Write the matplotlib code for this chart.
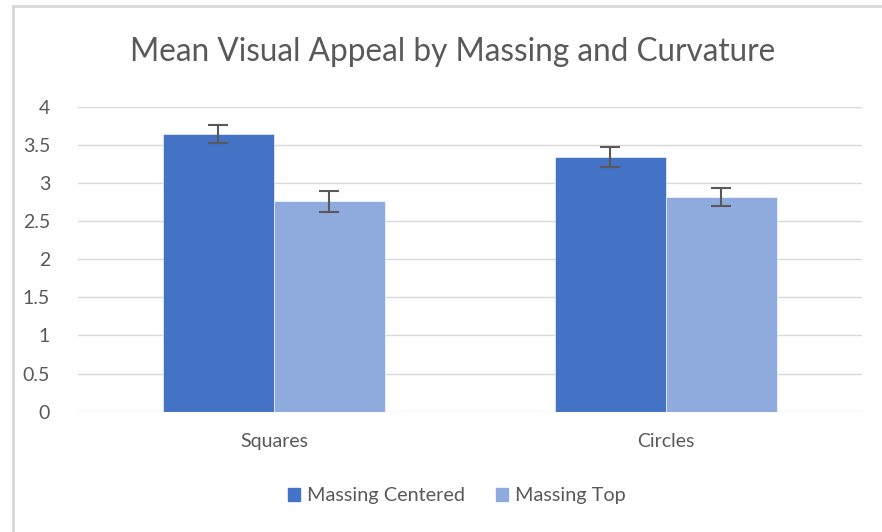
import matplotlib
matplotlib.use("Agg")
import matplotlib.pyplot as plt
from matplotlib.lines import Line2D
import numpy as np

categories = ["Squares", "Circles"]
series_names = ["Massing Centered", "Massing Top"]
centered_means = [3.64, 3.34]
centered_err = [0.12, 0.13]
top_means = [2.76, 2.82]
top_err = [0.135, 0.12]
y_ticks = [0, 0.5, 1, 1.5, 2, 2.5, 3, 3.5, 4]
y_tick_labels = ["0", "0.5", "1", "1.5", "2", "2.5", "3", "3.5", "4"]

plt.rcParams["font.family"] = ["Lato", "DejaVu Sans"]
text_color = "#595959"
grid_color = "#D9D9D9"
colors = ["#4472C4", "#8FAADC"]

fig = plt.figure(figsize=(8.82, 5.32), dpi=100)
ax = fig.add_axes([0.0884, 0.2261, 0.8886, 0.5733])

x = np.arange(len(categories))
w = 0.283
ax.bar(x - w / 2, centered_means, width=w, color=colors[0], edgecolor="white",
       linewidth=0.4, zorder=2, label=series_names[0])
ax.bar(x + w / 2, top_means, width=w, color=colors[1], edgecolor="white",
       linewidth=0.4, zorder=2, label=series_names[1])
ax.errorbar(x - w / 2, centered_means, yerr=centered_err, fmt="none",
            ecolor=text_color, elinewidth=1.5, capsize=7.5, capthick=1.5, zorder=3)
ax.errorbar(x + w / 2, top_means, yerr=top_err, fmt="none",
            ecolor=text_color, elinewidth=1.5, capsize=7.5, capthick=1.5, zorder=3)

ax.set_xlim(-0.5, 1.5)
ax.set_ylim(0, 4)
ax.set_yticks(y_ticks)
ax.set_yticklabels(y_tick_labels)
ax.set_xticks(x)
ax.set_xticklabels(categories)
ax.yaxis.grid(True, color=grid_color, linewidth=1.0, zorder=0)
ax.set_axisbelow(True)
for s in ax.spines.values():
    s.set_visible(False)
ax.tick_params(axis="both", length=0, colors=text_color, labelsize=14)
ax.tick_params(axis="y", pad=20)
ax.tick_params(axis="x", pad=15)
for lbl in ax.get_yticklabels():
    lbl.set_horizontalalignment("right")

fig.text(0.5136, 0.903, "Mean Visual Appeal by Massing and Curvature",
         ha="center", va="center", fontsize=22.7, color=text_color)

handles = [plt.Rectangle((0, 0), 1, 1, color=c) for c in colors]
fig.legend(handles, series_names, loc="center", bbox_to_anchor=(0.518, 0.068),
           ncol=2, frameon=False, fontsize=14.3, labelcolor=text_color,
           handlelength=0.6, handleheight=0.6, handletextpad=0.35, columnspacing=1.6)

# outer chart frame (top and left edges)
fig.add_artist(Line2D([12.5 / 882, 1.0], [1 - 6 / 532, 1 - 6 / 532],
                      color="#D9D9D9", linewidth=2, transform=fig.transFigure))
fig.add_artist(Line2D([12.5 / 882, 12.5 / 882], [0, 1 - 6 / 532],
                      color="#D9D9D9", linewidth=2, transform=fig.transFigure))

fig.savefig("out.png", dpi=100, facecolor="white")
